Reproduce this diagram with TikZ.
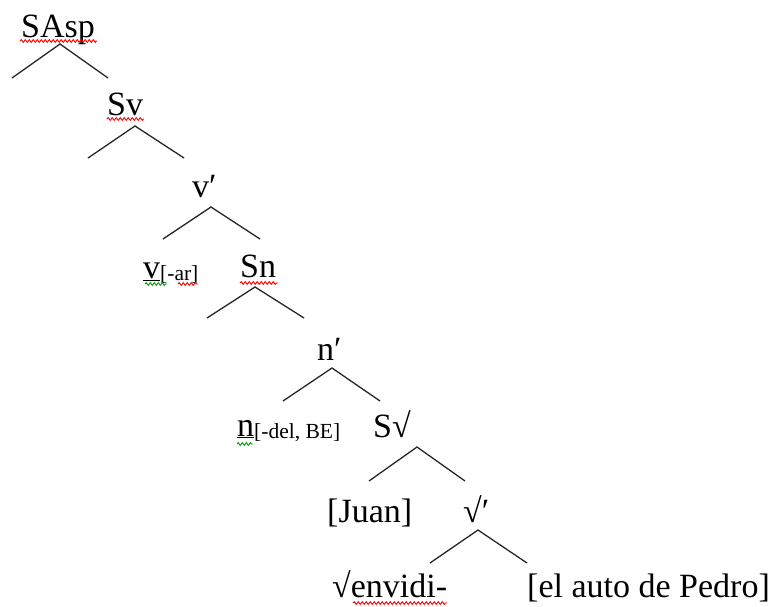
\documentclass[tikz,border=0pt]{standalone}
\usepackage{fontspec}
\setmainfont{Liberation Serif}
\usetikzlibrary{decorations.pathmorphing}
\begin{document}
\begin{tikzpicture}[x=1pt,y=-1pt,
  lbl/.style={inner sep=0pt, anchor=base west, font=\fontsize{34}{38}\selectfont},
  branch/.style={line width=1.3pt, black!85},
  redsq/.style={draw=red, line width=0.9pt, decorate, decoration={snake, segment length=4pt, amplitude=1.4pt}},
  greensq/.style={draw=green!60!black, line width=0.9pt, decorate, decoration={snake, segment length=4pt, amplitude=1.4pt}}]
\useasboundingbox (0,0) rectangle (777,606);
\newcommand{\subtxt}[1]{\raisebox{-2pt}{\fontsize{21.5}{24}\selectfont #1}}
% labels
\node[lbl] (sasp) at (21,37) {SAsp};
\node[lbl] (sv) at (107,115) {Sv};
\node[lbl] (vbar) at (192,197) {v′};
\node[lbl] (vsub) at (143,278) {\underline{v}\subtxt{[-ar]}};
\node[lbl] (sn) at (240,277) {Sn};
\node[lbl] (nbar) at (317,360) {n′};
\node[lbl] (nsub) at (237,436) {\underline{n}\subtxt{[-del, BE]}};
\node[lbl] (sroot) at (373,437) {S√};
\node[lbl] (juan) at (327,522) {[Juan]};
\node[lbl] (rootbar) at (463,522) {√′};
\node[lbl] (envidi) at (332,597) {√envidi-};
\node[lbl] (pedro) at (527,597) {[el auto de Pedro]};
% branch points
\coordinate (a1) at (60,44);  \coordinate (l1) at (12,78);  \coordinate (r1) at (108,78);
\coordinate (a2) at (135,126); \coordinate (l2) at (88,158); \coordinate (r2) at (184,158);
\coordinate (a3) at (211,207); \coordinate (l3) at (163,239); \coordinate (r3) at (260,239);
\coordinate (a4) at (255,287); \coordinate (l4) at (207,318); \coordinate (r4) at (304,318);
\coordinate (a5) at (332,368); \coordinate (l5) at (283,401); \coordinate (r5) at (380,401);
\coordinate (a6) at (417,447); \coordinate (l6) at (369,481); \coordinate (r6) at (465,481);
\coordinate (a7) at (478,530); \coordinate (l7) at (430,563); \coordinate (r7) at (527,563);
\foreach \i in {1,...,7}{
  \draw[branch] (l\i) -- (a\i) -- (r\i);
}
% spell-check squiggles
\coordinate (q1a) at (20,41);  \coordinate (q1b) at (97,41);
\coordinate (q2a) at (107,119); \coordinate (q2b) at (144,119);
\coordinate (q3a) at (240,283); \coordinate (q3b) at (278,283);
\coordinate (q4a) at (178,284); \coordinate (q4b) at (198,284);
\coordinate (q5a) at (353,603); \coordinate (q5b) at (447,603);
\coordinate (g1a) at (145,284); \coordinate (g1b) at (167,284);
\coordinate (g2a) at (237,444); \coordinate (g2b) at (253,444);
\foreach \i in {1,...,5}{ \draw[redsq] (q\i a) -- (q\i b); }
\foreach \i in {1,2}{ \draw[greensq] (g\i a) -- (g\i b); }
\end{tikzpicture}
\end{document}
